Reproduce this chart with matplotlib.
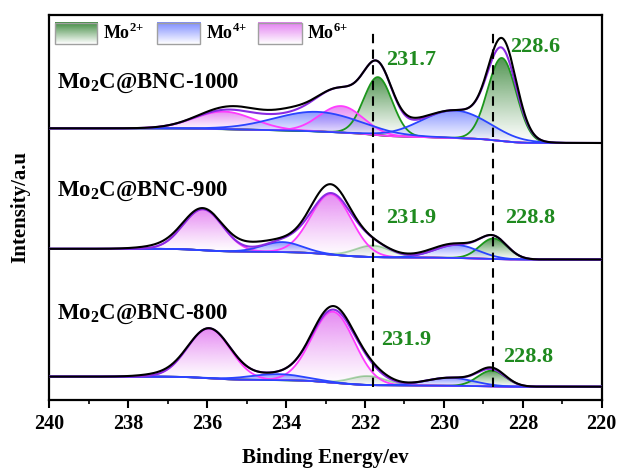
import numpy as np
import matplotlib
matplotlib.use('Agg')
import matplotlib.pyplot as plt
from matplotlib.colors import to_rgb
from matplotlib.patches import Rectangle

plt.rcParams['font.family'] = ['Liberation Serif', 'DejaVu Serif']
plt.rcParams['font.weight'] = 'bold'
plt.rcParams['mathtext.fontset'] = 'custom'
plt.rcParams['mathtext.rm'] = 'Liberation Serif:bold'
plt.rcParams['mathtext.bf'] = 'Liberation Serif:bold'

# ---- data (binding energy in eV, intensity in a.u.) ----
samples = ['Mo$_{\\mathregular{2}}$C@BNC-1000', 'Mo$_{\\mathregular{2}}$C@BNC-900', 'Mo$_{\\mathregular{2}}$C@BNC-800']

# Shirley background end levels: at 240 eV and at 226 eV
bg_left = [271.7, 151.2, 23.4]
bg_right = [257.0, 140.5, 13.3]

# fitted components: centers, heights above background, widths (sigma)
mo2_center = [[231.67, 228.53], [231.80, 228.74], [231.92, 228.79]]
mo2_height = [[58, 83], [11.5, 20.5], [9, 15.7]]
mo2_sigma = [[0.36, 0.36], [0.45, 0.35], [0.45, 0.35]]
mo2_alpha = [[1.0, 1.0], [0.35, 1.0], [0.35, 1.0]]

mo4_center = [[233.2, 229.72], [234.09, 229.68], [234.21, 229.85]]
mo4_height = [[19.5, 27.5], [10, 13], [6, 8]]
mo4_sigma = [[1.1, 0.85], [0.5, 0.55], [0.7, 0.6]]

mo6_center = [[235.57, 232.6], [236.1, 232.86], [235.95, 232.81]]
mo6_height = [[17.5, 26.5], [41, 60.3], [49.7, 71]]
mo6_sigma = [[0.75, 0.55], [0.5, 0.52], [0.54, 0.54]]

# where the raw spectrum sits above the fitted envelope (center, height, sigma)
raw_excess = [
    [(228.45, 10, 0.3), (230.8, 2, 0.35), (235.0, 4, 0.7), (233.9, 3, 0.4)],
    [(232.95, 9, 0.45), (234.9, 5, 0.45), (237.0, 3, 0.6), (230.3, 2, 0.6)],
    [(232.8, 3.5, 0.45), (228.8, 1.5, 0.35), (231.6, 2, 0.4), (237.2, 2, 0.5)],
]

peak_labels = [['231.7', '228.6'], ['231.9', '228.8'], ['231.9', '228.8']]
label_pos = [[(231.46, 340), (228.33, 353.3)],
             [(231.46, 181.7), (228.45, 181.7)],
             [(231.59, 60), (228.49, 43.3)]]
dash_lines = [231.8, 228.75]

xticks = [240, 238, 236, 234, 232, 230, 228, 226]
xtick_labels = ['240', '238', '236', '234', '232', '230', '228', '220']

# ---- colours ----
green_line, green_fill = '#1c961c', '#2a7d2a'
blue_line, blue_fill = '#2a44ff', '#6f7fff'
mag_line, mag_fill = '#ff3cff', '#e070f0'
env_color = '#8a2be2'
text_green = '#1f8a1f'


def gauss(E, c, h, s):
    return h * np.exp(-0.5 * ((E - c) / s) ** 2)


def gradient_fill(ax, x, ytop, ybot, color, amax, z):
    # fill between curve and background, fading from colour at top to clear at bottom
    poly = ax.fill_between(x, ybot, ytop, facecolor='none', edgecolor='none')
    path = poly.get_paths()[0]
    grad = np.zeros((100, 1, 4))
    grad[:, :, :3] = to_rgb(color)
    grad[:, 0, 3] = np.linspace(0.02, amax, 100) ** 1.2
    im = ax.imshow(grad, aspect='auto', origin='lower', zorder=z,
                   extent=[x.min(), x.max(), ybot.min(), ytop.max()])
    im.set_clip_path(path, transform=ax.transData)
    poly.remove()


fig = plt.figure(figsize=(6.19, 4.71), dpi=100)
ax = fig.add_axes([0.0796, 0.1507, 0.8925, 0.8175])

E = np.linspace(226, 240, 1401)

for i in range(3):
    comps = []
    for k in range(2):
        comps.append((gauss(E, mo2_center[i][k], mo2_height[i][k], mo2_sigma[i][k]), green_line, green_fill, mo2_alpha[i][k]))
    for k in range(2):
        comps.append((gauss(E, mo6_center[i][k], mo6_height[i][k], mo6_sigma[i][k]), mag_line, mag_fill, 1.0))
    for k in range(2):
        comps.append((gauss(E, mo4_center[i][k], mo4_height[i][k], mo4_sigma[i][k]), blue_line, blue_fill, 1.0))
    signal = sum(c[0] for c in comps)

    # Shirley type background: steps up in proportion to the peak area on the low energy side
    cum = np.concatenate([[0], np.cumsum(0.5 * (signal[1:] + signal[:-1]) * np.diff(E))])
    bg = bg_right[i] + (bg_left[i] - bg_right[i]) * cum / cum[-1]

    envelope = bg + signal
    raw = envelope.copy()
    for c0, h0, s0 in raw_excess[i]:
        raw = raw + gauss(E, c0, h0, s0)

    ax.plot(E, bg, color='black', lw=1.2, zorder=3)
    for c, lc, fc, a in comps:
        m = c > 0.01 * c.max()
        gradient_fill(ax, E[m], bg[m] + c[m], bg[m], fc, 0.85 * a, 2)
    for c, lc, fc, a in comps:
        ax.plot(E, bg + c, color=lc, lw=1.3, alpha=a, zorder=4)
    ax.plot(E, envelope, color=env_color, lw=1.5, zorder=5)
    ax.plot(E, raw, color='black', lw=1.5, zorder=6)

    # sample name and peak positions
    ax.text(0.014, [0.823, 0.541, 0.223][i], samples[i], transform=ax.transAxes,
            fontsize=16.5, fontweight='bold', va='center', ha='left')
    for lab, (px, py) in zip(peak_labels[i], label_pos[i]):
        ax.text(px, py, lab, color=text_green, fontsize=16, fontweight='bold', va='center', ha='left', zorder=7)

for xd in dash_lines:
    ax.axvline(xd, ymin=0.035, ymax=0.966, color='black', lw=1.5, linestyle=(0, (4.5, 3)), zorder=8)

# legend with gradient swatches
legend_items = [('Mo$^{\\mathregular{2{+}}}$', green_fill, 0.0103, 0.0864, 0.097),
                ('Mo$^{\\mathregular{4{+}}}$', blue_fill, 0.195, 0.273, 0.283),
                ('Mo$^{\\mathregular{6{+}}}$', mag_fill, 0.378, 0.457, 0.467)]
for lab, col, x0, x1, xt in legend_items:
    g = np.zeros((50, 1, 4))
    g[:, :, :3] = to_rgb(col)
    g[:, 0, 3] = np.linspace(0.0, 0.9, 50)
    ax.imshow(g, aspect='auto', origin='lower', extent=[x0, x1, 0.925, 0.98],
              transform=ax.transAxes, zorder=9)
    ax.add_patch(Rectangle((x0, 0.925), x1 - x0, 0.055, transform=ax.transAxes,
                           fill=False, edgecolor='#a0a0a0', lw=1, zorder=10))
    ax.text(xt, 0.953, lab, transform=ax.transAxes, fontsize=13, fontweight='bold',
            va='center', ha='left', zorder=10)

ax.set_xlim(240, 226)
ax.set_ylim(0, 385)
ax.set_xticks(xticks)
ax.set_xticklabels(xtick_labels)
ax.set_xticks(np.arange(227, 240, 2), minor=True)
ax.set_yticks([])
ax.tick_params(axis='x', which='major', direction='out', length=6, width=1.5, labelsize=14.5, pad=4)
ax.tick_params(axis='x', which='minor', direction='out', length=3, width=1.2)
for sp in ax.spines.values():
    sp.set_linewidth(1.6)

ax.set_xlabel('Binding Energy/ev', fontsize=15, fontweight='bold', labelpad=10)
ax.set_ylabel('Intensity/a.u', fontsize=15, fontweight='bold', labelpad=14)

fig.savefig('out.png', dpi=100)
